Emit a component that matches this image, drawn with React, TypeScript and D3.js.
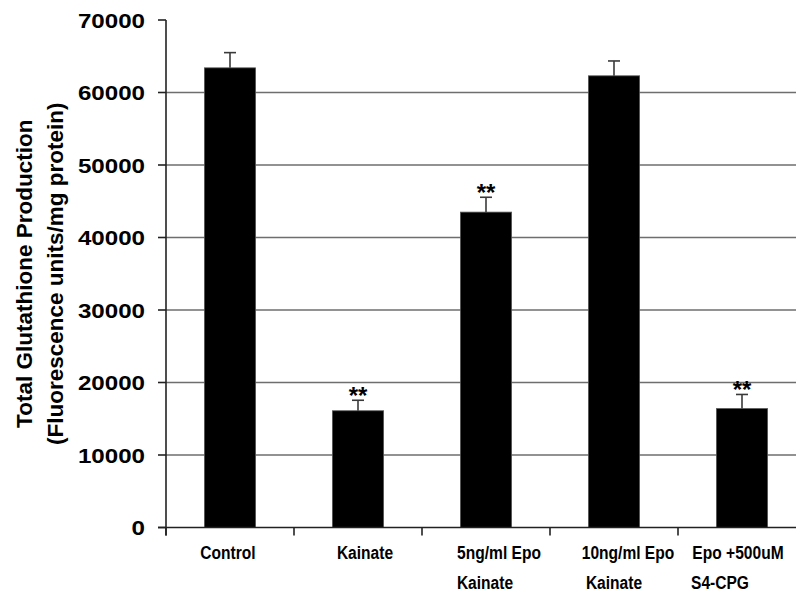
import React from "react";
import * as d3 from "d3";

// Total glutathione per treatment group, with SEM and significance marks
const groupLabels: string[][] = [
  ["Control"],
  ["Kainate"],
  ["5ng/ml Epo", "Kainate"],
  ["10ng/ml Epo", "Kainate"],
  ["Epo +500uM", "S4-CPG"],
];
const groupKeys = ["control", "kainate", "epo5", "epo10", "epoCpg"];
const meanValues = [63400, 16100, 43500, 62300, 16400];
const semValues = [2100, 1450, 2050, 2050, 1950];
const significance = ["", "**", "**", "", "**"];
const yTicks = [0, 10000, 20000, 30000, 40000, 50000, 60000, 70000];
const yTitleLines = ["Total Glutathione Production", "(Fluorescence units/mg protein)"];

const W = 796;
const H = 598;
const axisX = 166;
const plotRight = 806;
const plotTop = 20;
const plotBottom = 527.5;

// per-line horizontal nudges for the category captions
const captionShift: number[][] = [[-2], [7], [13, -1], [14, 0], [-4, -22]];

const font = "'Liberation Sans', Arial, Helvetica, sans-serif";

export default function App() {
  const x = d3
    .scaleBand<string>()
    .domain(groupKeys)
    .range([axisX, plotRight])
    .paddingInner(0.6)
    .paddingOuter(0.3);
  const step = x.step();
  const y = d3.scaleLinear().domain([0, 70000]).range([plotBottom, plotTop]);

  return (
    <svg
      width={W}
      height={H}
      viewBox={`0 0 ${W} ${H}`}
      style={{ position: "fixed", left: 0, top: 0, background: "#fff" }}
    >
      <rect x={0} y={0} width={W} height={H} fill="#fff" />

      {/* horizontal gridlines */}
      {yTicks
        .filter((t) => t > 0 && t < 70000)
        .map((t) => (
          <line
            key={`g${t}`}
            x1={axisX}
            x2={plotRight}
            y1={y(t)}
            y2={y(t)}
            stroke="#6e6e6e"
            strokeWidth={1.6}
          />
        ))}

      {/* bars */}
      {groupKeys.map((k, i) => (
        <rect
          key={`b${k}`}
          x={x(k)!}
          y={y(meanValues[i])}
          width={x.bandwidth()}
          height={y(0) - y(meanValues[i])}
          fill="#000"
          stroke="#555"
          strokeWidth={0.8}
        />
      ))}

      {/* error bars */}
      {groupKeys.map((k, i) => {
        const cx = x(k)! + x.bandwidth() / 2;
        const top = y(meanValues[i] + semValues[i]);
        return (
          <g key={`e${k}`} stroke="#3a3a3a" strokeWidth={1.6}>
            <line x1={cx} x2={cx} y1={y(meanValues[i])} y2={top} />
            <line x1={cx - 6} x2={cx + 6} y1={top} y2={top} />
          </g>
        );
      })}

      {/* significance marks */}
      {groupKeys.map((k, i) =>
        significance[i] ? (
          <text
            key={`s${k}`}
            x={x(k)! + x.bandwidth() / 2}
            y={y(meanValues[i] + semValues[i]) + 4}
            textAnchor="middle"
            fontFamily={font}
            fontWeight="bold"
            fontSize={24}
            fill="#000"
          >
            {significance[i]}
          </text>
        ) : null
      )}

      {/* y axis */}
      <line x1={axisX} x2={axisX} y1={plotTop} y2={plotBottom + 8} stroke="#222" strokeWidth={1.6} />
      {yTicks.map((t) => (
        <g key={`yt${t}`}>
          <line x1={axisX - 8} x2={axisX} y1={y(t)} y2={y(t)} stroke="#222" strokeWidth={1.6} />
          <text
            transform={`translate(145, ${y(t) + 7.5}) scale(1.15, 1)`}
            textAnchor="end"
            fontFamily={font}
            fontWeight="bold"
            fontSize={21}
            fill="#000"
          >
            {t}
          </text>
        </g>
      ))}

      {/* x axis */}
      <line x1={axisX - 8} x2={plotRight} y1={plotBottom} y2={plotBottom} stroke="#222" strokeWidth={1.6} />
      {groupKeys.map((k) => (
        <line
          key={`xt${k}`}
          x1={x(k)! - step * 0.3}
          x2={x(k)! - step * 0.3}
          y1={plotBottom}
          y2={plotBottom + 8}
          stroke="#222"
          strokeWidth={1.6}
        />
      ))}

      {/* category captions */}
      {groupKeys.map((k, i) => {
        const cx = x(k)! + x.bandwidth() / 2;
        return groupLabels[i].map((line, j) => (
          <text
            key={`c${k}${j}`}
            transform={`translate(${cx + captionShift[i][j]}, ${559 + j * 30}) scale(0.82, 1)`}
            textAnchor="middle"
            fontFamily={font}
            fontWeight="bold"
            fontSize={19}
            fill="#000"
          >
            {line}
          </text>
        ));
      })}

      {/* y axis title */}
      {yTitleLines.map((line, j) => (
        <text
          key={`yl${j}`}
          transform={`translate(${32 + j * 31}, ${(plotTop + plotBottom) / 2}) rotate(-90)`}
          textAnchor="middle"
          fontFamily={font}
          fontWeight="bold"
          fontSize={22.5}
          fill="#000"
        >
          {line}
        </text>
      ))}
    </svg>
  );
}
